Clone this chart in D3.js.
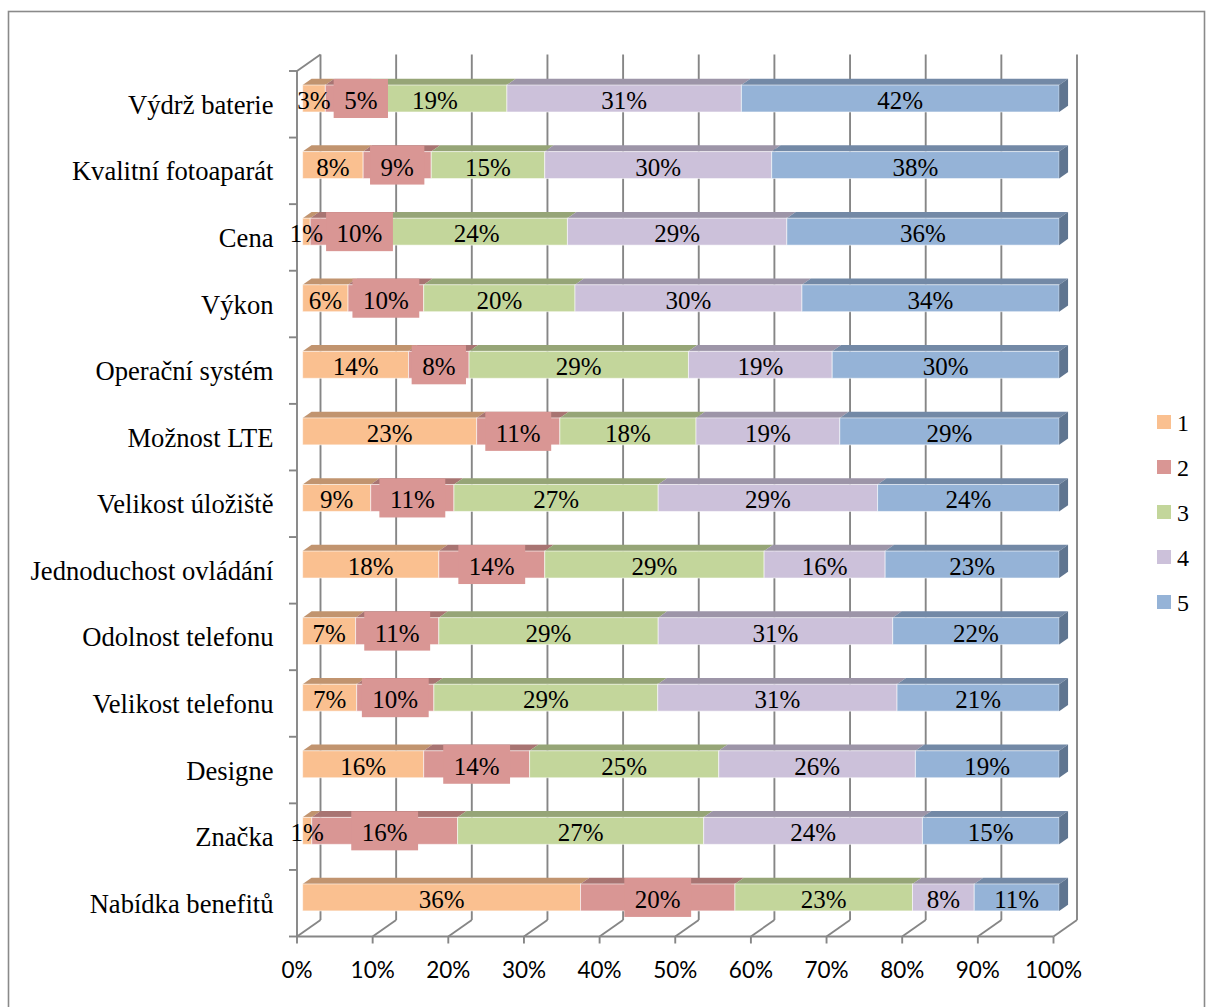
<!DOCTYPE html>
<html>
<head>
<meta charset="utf-8">
<script src="https://cdn.jsdelivr.net/npm/d3@7"></script>
<style>
  html, body { margin: 0; padding: 0; background: #fff; }
  svg { display: block; }
</style>
</head>
<body>
<svg id="chart" width="1206" height="1007"></svg>
<script>
// Survey answers per phone feature (rating 1..5), top to bottom
const categories = [
  "Výdrž baterie", "Kvalitní fotoaparát", "Cena", "Výkon", "Operační systém",
  "Možnost LTE", "Velikost úložiště", "Jednoduchost ovládání", "Odolnost telefonu",
  "Velikost telefonu", "Designe", "Značka", "Nabídka benefitů"
];
const rating1 = [3, 8, 1, 6, 14, 23, 9, 18, 7, 7, 16, 1, 36];
const rating2 = [5, 9, 10, 10, 8, 11, 11, 14, 11, 10, 14, 16, 20];
const rating3 = [19, 15, 24, 20, 29, 18, 27, 29, 29, 29, 25, 27, 23];
const rating4 = [31, 30, 29, 30, 19, 19, 29, 16, 31, 31, 26, 24, 8];
const rating5 = [42, 38, 36, 34, 30, 29, 24, 23, 22, 21, 19, 15, 11];
const seriesNames = ["1", "2", "3", "4", "5"];
const tickValues = [0, 0.1, 0.2, 0.3, 0.4, 0.5, 0.6, 0.7, 0.8, 0.9, 1];
const tickLabels = ["0%", "10%", "20%", "30%", "40%", "50%", "60%", "70%", "80%", "90%", "100%"];

const frontColors = ["#FAC090", "#D99694", "#C3D69B", "#CCC1DA", "#95B3D7"];
const topColors   = ["#C1946F", "#A87472", "#96A577", "#9D95A8", "#7389A6"];
const sideColors  = ["#A47D5E", "#8E6160", "#7F8C65", "#857E8F", "#5F7590"];

const svg = d3.select("#chart");

// Oblique 3D projection: value v along x, front-plane y, depth z in [0,1]
const X0 = 297, X1 = 1053.5, TOP = 71, BOTTOM = 936.5, DX = 23.5, DY = -16.5;
const x = d3.scaleLinear().domain([0, 1]).range([X0, X1]);
const y = d3.scaleBand().domain(categories).range([TOP, BOTTOM]);
const P = (v, yy, z) => [x(v) + z * DX, yy + z * DY];

const gridColor = "#868686";

// outer frame
svg.append("rect")
  .attr("x", 8.5).attr("y", 11.5).attr("width", 1196).attr("height", 1030)
  .attr("fill", "none").attr("stroke", "#8a8a8a").attr("stroke-width", 1.6);

const grid = svg.append("g").attr("stroke", gridColor).attr("stroke-width", 1.9).attr("fill", "none");

// back wall gridlines
tickValues.forEach(t => {
  const a = P(t, TOP, 1), b = P(t, BOTTOM, 1);
  grid.append("line").attr("x1", a[0]).attr("y1", a[1]).attr("x2", b[0]).attr("y2", b[1]);
  // floor diagonals
  const c = P(t, BOTTOM, 0);
  grid.append("line").attr("x1", c[0]).attr("y1", c[1]).attr("x2", b[0]).attr("y2", b[1]);
  // tick marks below the axis
  grid.append("line").attr("x1", c[0]).attr("y1", c[1]).attr("x2", c[0]).attr("y2", c[1] + 7);
});

// front baseline and left wall edges
{
  const a = P(0, BOTTOM, 0), b = P(1, BOTTOM, 0), c = P(0, TOP, 0), d = P(0, TOP, 1);
  grid.append("line").attr("x1", a[0]).attr("y1", a[1]).attr("x2", b[0]).attr("y2", b[1]);
  grid.append("line").attr("x1", c[0]).attr("y1", c[1]).attr("x2", a[0]).attr("y2", a[1]);
  grid.append("line").attr("x1", c[0]).attr("y1", c[1]).attr("x2", d[0]).attr("y2", d[1]);
  const bounds = categories.map(cat => y(cat)).concat([BOTTOM]);
  bounds.forEach(yy => {
    grid.append("line").attr("x1", X0 - 8).attr("y1", yy).attr("x2", X0).attr("y2", yy);
  });
}

// x axis labels
svg.append("g").selectAll("text").data(tickValues).join("text")
  .attr("x", (t) => x(t)).attr("y", 978)
  .attr("text-anchor", "middle")
  .attr("font-family", "Lato, 'Open Sans', sans-serif").attr("font-size", 22.5)
  .attr("fill", "#000")
  .text((t, i) => tickLabels[i]);

// category labels
svg.append("g").selectAll("text").data(categories).join("text")
  .attr("x", 273.5).attr("y", d => y(d) + y.bandwidth() / 2 + 9.5)
  .attr("text-anchor", "end")
  .attr("font-family", "'Liberation Serif', 'Times New Roman', serif").attr("font-size", 26.6)
  .attr("fill", "#000")
  .text(d => d);

// stacked (100%) data
const rows = categories.map((c, i) => ({
  category: c, "1": rating1[i], "2": rating2[i], "3": rating3[i], "4": rating4[i], "5": rating5[i]
}));
const stacked = d3.stack().keys(seriesNames).offset(d3.stackOffsetExpand)(rows);

const Z0 = 0.24, Z1 = 0.62;
const barOff = 0.27, barH = 0.405;
const poly = pts => "M" + pts.map(p => p.join(",")).join("L") + "Z";

const bars = svg.append("g");
categories.forEach((cat, ri) => {
  const yTop = y(cat) + y.bandwidth() * barOff;
  const yBot = yTop + y.bandwidth() * barH;
  const g = bars.append("g");
  stacked.forEach((s, si) => {
    const [v0, v1] = s[ri];
    // top face
    g.append("path")
      .attr("d", poly([P(v0, yTop, Z0), P(v1, yTop, Z0), P(v1, yTop, Z1), P(v0, yTop, Z1)]))
      .attr("fill", topColors[si]);
  });
  stacked.forEach((s, si) => {
    const [v0, v1] = s[ri];
    const a = P(v0, yTop, Z0), b = P(v1, yBot, Z0);
    g.append("rect")
      .attr("x", a[0]).attr("y", a[1]).attr("width", b[0] - a[0]).attr("height", b[1] - a[1])
      .attr("fill", frontColors[si])
      .attr("stroke", "rgba(255,255,255,0.55)").attr("stroke-width", 1);
  });
  // right end face of the last segment
  const last = stacked[stacked.length - 1][ri][1];
  g.append("path")
    .attr("d", poly([P(last, yTop, Z0), P(last, yTop, Z1), P(last, yBot, Z1), P(last, yBot, Z0)]))
    .attr("fill", sideColors[stacked.length - 1]);
});

// data labels (series "2" gets a filled box), nudged right to avoid overlaps
const labelFont = "'Liberation Serif', 'Times New Roman', serif";
const labelSize = 25;
const labels = svg.append("g");
const measure = svg.append("text").attr("font-family", labelFont).attr("font-size", labelSize).attr("visibility", "hidden");
const textWidth = str => { measure.text(str); return measure.node().getComputedTextLength(); };
const seriesValues = [rating1, rating2, rating3, rating4, rating5];

categories.forEach((cat, ri) => {
  const yTop = y(cat) + y.bandwidth() * barOff;
  const yBot = yTop + y.bandwidth() * barH;
  const yc = (yTop + yBot) / 2 + Z0 * DY;
  let prevRight = -Infinity;
  stacked.forEach((s, si) => {
    const [v0, v1] = s[ri];
    const str = seriesValues[si][ri] + "%";
    const tw = textWidth(str);
    const boxed = si === 1;
    const half = boxed ? (tw + 21) / 2 : tw / 2;
    let cx = (P(v0, 0, Z0)[0] + P(v1, 0, Z0)[0]) / 2;
    if (cx - half < prevRight + 3) cx = prevRight + 3 + half;
    prevRight = cx + half;
    if (boxed) {
      labels.append("rect")
        .attr("x", cx - half).attr("y", yc - 19.5)
        .attr("width", half * 2).attr("height", 39)
        .attr("fill", frontColors[1]);
    }
    labels.append("text")
      .attr("x", cx).attr("y", yc + 10.5)
      .attr("text-anchor", "middle")
      .attr("font-family", labelFont).attr("font-size", labelSize)
      .attr("fill", "#000")
      .text(str);
  });
});
measure.remove();

// legend
const legend = svg.append("g");
seriesNames.forEach((name, i) => {
  const cy = 422 + i * 45;
  legend.append("rect").attr("x", 1157).attr("y", cy - 7).attr("width", 14).attr("height", 14)
    .attr("fill", frontColors[i]);
  legend.append("text").attr("x", 1177).attr("y", cy + 9)
    .attr("font-family", labelFont).attr("font-size", 24).attr("fill", "#000")
    .text(name);
});
</script>
</body>
</html>
